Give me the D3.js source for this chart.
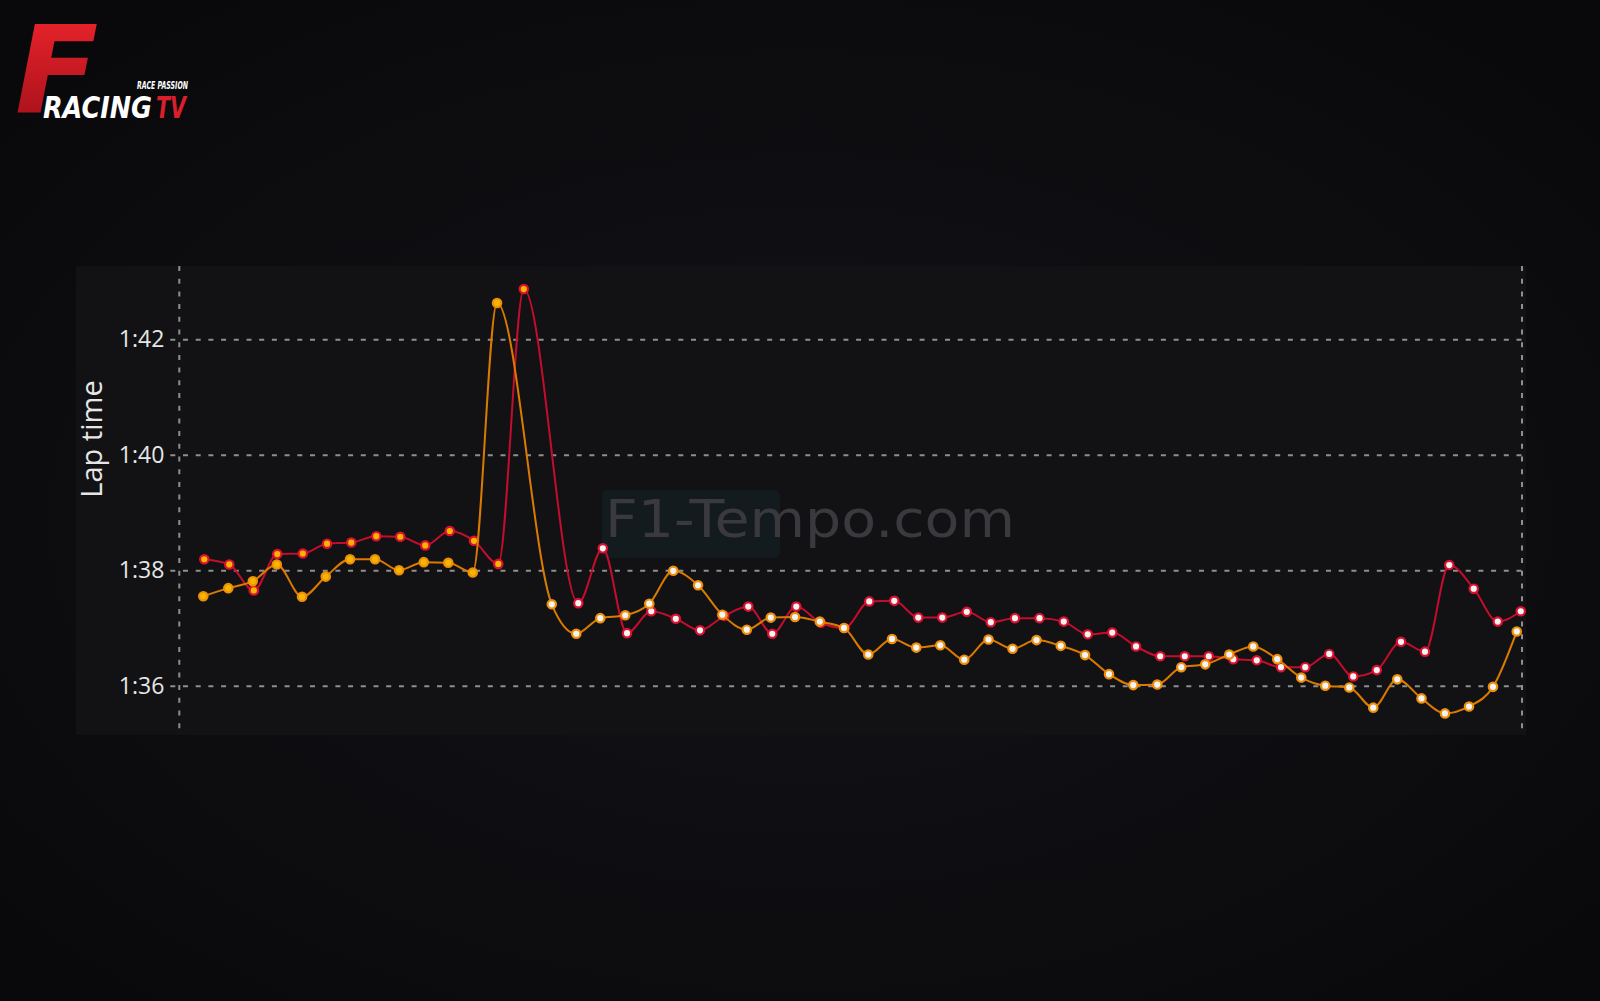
<!DOCTYPE html>
<html><head><meta charset="utf-8">
<script src="https://cdn.jsdelivr.net/npm/d3@7"></script>
<style>
html,body{margin:0;padding:0;width:1600px;height:1001px;overflow:hidden;background:#0b0b0e;}
svg{display:block;}
</style></head><body>
<svg id="chart" width="1600" height="1001"></svg>
<script>
// ---- data ----
const yTickValues = [96, 98, 100, 102];
const yTickLabels = ["1:36", "1:38", "1:40", "1:42"];

const redLaps = [1,2,3,4,5,6,7,8,9,10,11,12,13,14,16,17,18,19,20,21,22,23,24,25,26,27,28,29,30,31,32,33,34,35,36,37,38,39,40,41,42,43,44,45,46,47,48,49,50,51,52,53,54,55];
const redElapsed = [100,200,298,392,494,591,688,788,884,984,1082,1179,1276,1378,1596,1694,1791,1888,1986,2083,2180,2276,2372,2468,2566,2661,2760,2860,2956,3052,3150,3246,3343,3441,3538,3634,3732,3827,3924,4022,4118,4216,4310,4407,4504,4600,4696,4790,4887,4983,5080,5178,5274,5366];
const redLapTimes = [98.19,98.10,97.65,98.28,98.29,98.46,98.48,98.59,98.58,98.43,98.68,98.51,98.11,102.87,97.43,98.38,96.91,97.29,97.16,96.96,97.21,97.37,96.90,97.37,97.09,97.00,97.46,97.47,97.18,97.18,97.28,97.10,97.17,97.17,97.11,96.89,96.92,96.68,96.51,96.51,96.51,96.46,96.44,96.32,96.32,96.55,96.16,96.27,96.76,96.59,98.09,97.68,97.11,97.29];
const redPitLap = 15;

const orangeLaps = [1,2,3,4,5,6,7,8,9,10,11,12,13,15,16,17,18,19,20,21,22,23,24,25,26,27,28,29,30,31,32,33,34,35,36,37,38,39,40,41,42,43,44,45,46,47,48,49,50,51,52,53,54,55];
const orangeElapsed = [96,196,294,390,491,586,683,783,879,978,1076,1174,1271,1490,1588,1684,1784,1880,1976,2075,2172,2270,2366,2463,2562,2659,2756,2851,2948,3044,3140,3237,3333,3429,3526,3623,3719,3816,3912,4008,4104,4200,4296,4392,4488,4584,4680,4776,4872,4969,5063,5159,5255,5350];
const orangeLapTimes = [97.55,97.69,97.81,98.10,97.54,97.89,98.19,98.19,98.00,98.14,98.13,97.96,102.63,97.41,96.90,97.17,97.22,97.42,97.99,97.74,97.23,96.97,97.18,97.19,97.11,97.00,96.54,96.81,96.66,96.70,96.45,96.80,96.64,96.79,96.69,96.53,96.20,96.01,96.02,96.32,96.37,96.54,96.68,96.46,96.14,96.00,95.97,95.62,96.11,95.78,95.52,95.64,95.98,96.94];
const orangePitLap = 14;

const xDomain = [0, 5371];
const yDomain = [95.146, 103.27];

// ---- layout ----
const svg = d3.select("#chart");
const defs = svg.append("defs");

const bg = defs.append("radialGradient").attr("id","bgGrad").attr("cx","50%").attr("cy","52%").attr("r","65%");
bg.append("stop").attr("offset","0%").attr("stop-color","#141418");
bg.append("stop").attr("offset","100%").attr("stop-color","#09090c");
svg.append("rect").attr("width",1600).attr("height",1001).attr("fill","url(#bgGrad)");

const fGrad = defs.append("linearGradient").attr("id","fGrad").attr("x1","0").attr("y1","0").attr("x2","0").attr("y2","1");
fGrad.append("stop").attr("offset","0%").attr("stop-color","#f2262e");
fGrad.append("stop").attr("offset","100%").attr("stop-color","#9c0e17");

// panel
const panel = {left:76, right:1526, top:266, bottom:735};
svg.append("rect").attr("x",panel.left).attr("y",panel.top)
  .attr("width",panel.right-panel.left).attr("height",panel.bottom-panel.top)
  .attr("fill","#121215");

const x = d3.scaleLinear().domain(xDomain).range([179.3, 1522]);
const y = d3.scaleLinear().domain(yDomain).range([panel.bottom, panel.top]);

// watermark
const wm = svg.append("g");
wm.append("rect").attr("x",602).attr("y",490).attr("width",178).attr("height",68).attr("rx",6)
  .attr("fill","#141b1e");
wm.append("text").attr("x",605).attr("y",537).text("F1-Tempo.com")
  .attr("font-family","DejaVu Sans").attr("font-size",52)
  .attr("textLength",410).attr("lengthAdjust","spacingAndGlyphs")
  .attr("fill","#3a3a3e");

// y axis with gridlines
const gridColor = "#8f8f8f";
const yAxis = d3.axisLeft(y).tickValues(yTickValues).tickFormat((d,i)=>yTickLabels[i])
  .tickSizeInner(-(1522-179.3)).tickSizeOuter(0).tickPadding(15);
const yg = svg.append("g").attr("transform","translate(179.3,0)").call(yAxis);
yg.select(".domain").remove();
yg.selectAll(".tick line").attr("x1",-9).attr("stroke",gridColor).attr("stroke-width",2)
  .attr("stroke-dasharray","5,7.7");
yg.selectAll(".tick text").attr("font-family","'Open Sans', sans-serif").attr("font-size",23)
  .attr("fill","#e6e6e6");

// vertical boundary lines
svg.append("g").selectAll("line").data(xDomain).join("line")
  .attr("x1",d=>x(d)).attr("x2",d=>x(d)).attr("y1",panel.top).attr("y2",panel.bottom)
  .attr("stroke",gridColor).attr("stroke-width",2).attr("stroke-dasharray","5,7.7");

// y label
svg.append("text").attr("transform","translate(101.7,439) rotate(-90)")
  .attr("text-anchor","middle").attr("font-family","'Open Sans', sans-serif").attr("font-size",29)
  .attr("fill","#e6e6e6").text("Lap time");

// series
const series = [
  {name:"red", laps:redLaps, xs:redElapsed, ys:redLapTimes, pit:redPitLap, line:"#c40d2c", ring:"#dc1030"},
  {name:"orange", laps:orangeLaps, xs:orangeElapsed, ys:orangeLapTimes, pit:orangePitLap, line:"#dc7a00", ring:"#ee8f0a"}
];
const line = d3.line().x(d=>x(d.t)).y(d=>y(d.v)).curve(d3.curveMonotoneX);

series.forEach(s=>{
  const pts = s.laps.map((l,i)=>({lap:l, t:s.xs[i], v:s.ys[i]}));
  const g = svg.append("g");
  g.append("path").datum(pts).attr("d",line).attr("fill","none")
    .attr("stroke",s.line).attr("stroke-width",2);
  g.selectAll("circle").data(pts).join("circle")
    .attr("cx",d=>x(d.t)).attr("cy",d=>y(d.v)).attr("r",4.2)
    .attr("fill",d=>d.lap < s.pit ? "#f6b600" : "#f3f3f3")
    .attr("stroke",s.ring).attr("stroke-width",2.2);
});

// logo
const logo = svg.append("g");
logo.append("text").attr("x",15).attr("y",113).text("F")
  .attr("font-family","DejaVu Sans").attr("font-weight","bold").attr("font-style","italic")
  .attr("font-size",122).attr("fill","url(#fGrad)");
logo.append("text").attr("x",43).attr("y",118).text("RACING")
  .attr("font-family","DejaVu Sans").attr("font-weight","bold").attr("font-style","italic")
  .attr("font-size",31).attr("textLength",109).attr("lengthAdjust","spacingAndGlyphs").attr("fill","#ffffff");
logo.append("text").attr("x",156).attr("y",118).text("TV")
  .attr("font-family","DejaVu Sans").attr("font-weight","bold").attr("font-style","italic")
  .attr("font-size",31).attr("textLength",30).attr("lengthAdjust","spacingAndGlyphs").attr("fill","#d81f2a");
logo.append("text").attr("x",137).attr("y",88.5).text("RACE PASSION")
  .attr("font-family","DejaVu Sans").attr("font-weight","bold").attr("font-style","italic")
  .attr("font-size",10.5).attr("textLength",51).attr("lengthAdjust","spacingAndGlyphs").attr("fill","#ffffff");
</script>
</body></html>
